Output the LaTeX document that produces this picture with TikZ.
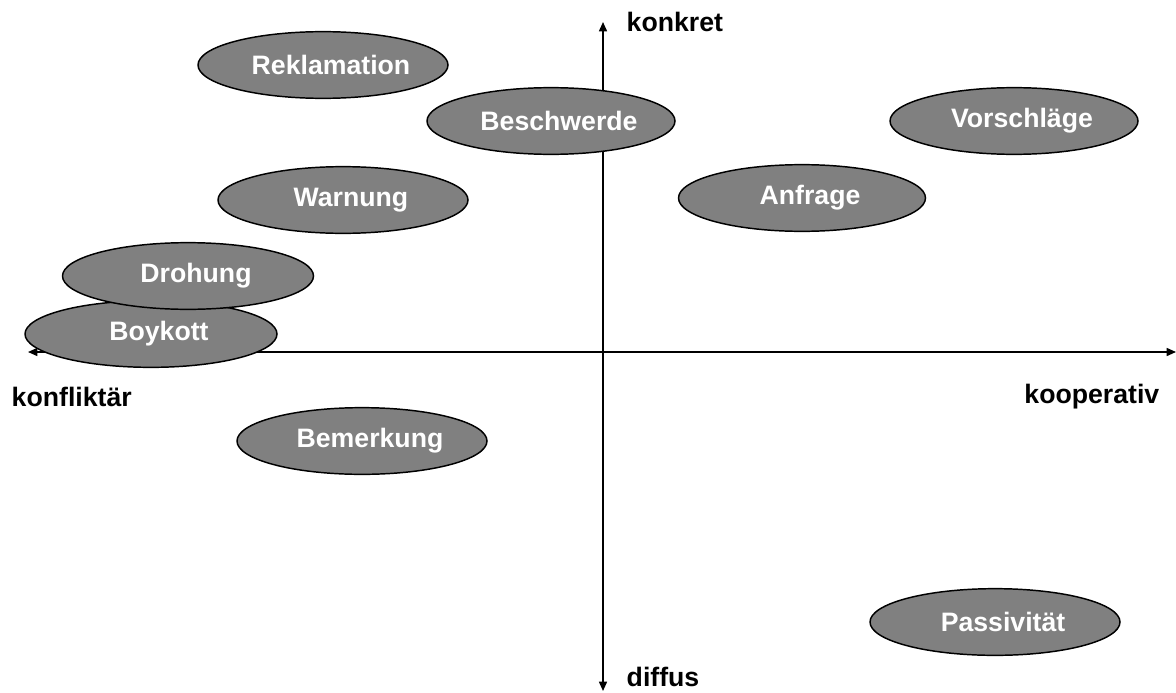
\documentclass[tikz,border=0pt]{standalone}
\usepackage{fontspec}
\setmainfont{Liberation Sans}
\usetikzlibrary{shapes.geometric,arrows.meta}
\tikzset{
	feld/.style={ellipse,draw=black,line width=1.1pt,fill={rgb,255:red,128;green,128;blue,128},text=white,font=\fontsize{20}{24}\selectfont\bfseries,minimum height=50pt,inner sep=0pt},
	achse/.style={line width=1.1pt,{Triangle[length=7pt,width=6pt]}-{Triangle[length=7pt,width=6pt]}},
	pol/.style={font=\fontsize{20}{24}\selectfont\bfseries}
}
\begin{document}
\begin{tikzpicture}[x=0.75pt,y=-0.75pt]
		\useasboundingbox (0,0) rectangle (1176,692);
		% Achsen
		\coordinate (W) at (28,352);
		\coordinate (E) at (1176,352);
		\coordinate (N) at (603,22);
		\coordinate (S) at (603,691);
		\draw[achse] (W) -- (E);
		\draw[achse] (S) -- (N);
		\node[pol,anchor=west] (konkret) at (622,22) {konkret};
		\node[pol,anchor=west] (diffus) at (622,677) {diffus};
		\node[pol,anchor=west] (konfliktaer) at (7,397) {konfliktär};
		\node[pol,anchor=east] (kooperativ) at (1164,397) {kooperativ};
		% Felder
		\foreach \n/\t/\x/\y/\w in {
				rek/Reklamation/323/65/250,
				bes/Beschwerde/551/121/248,
				vor/Vorschläge/1014/121/248,
				war/Warnung/343/200/250,
				anf/Anfrage/802/198/247,
				boy/Boykott/151/334/252,
				dro/Drohung/188/276/251,
				bem/Bemerkung/362/441/250,
				pas/Passivität/995/622/250
			}
		\node[feld,minimum width=\w*0.75pt] (\n) at (\x,\y) {\hspace*{12pt}\t};
	\end{tikzpicture}
\end{document}
